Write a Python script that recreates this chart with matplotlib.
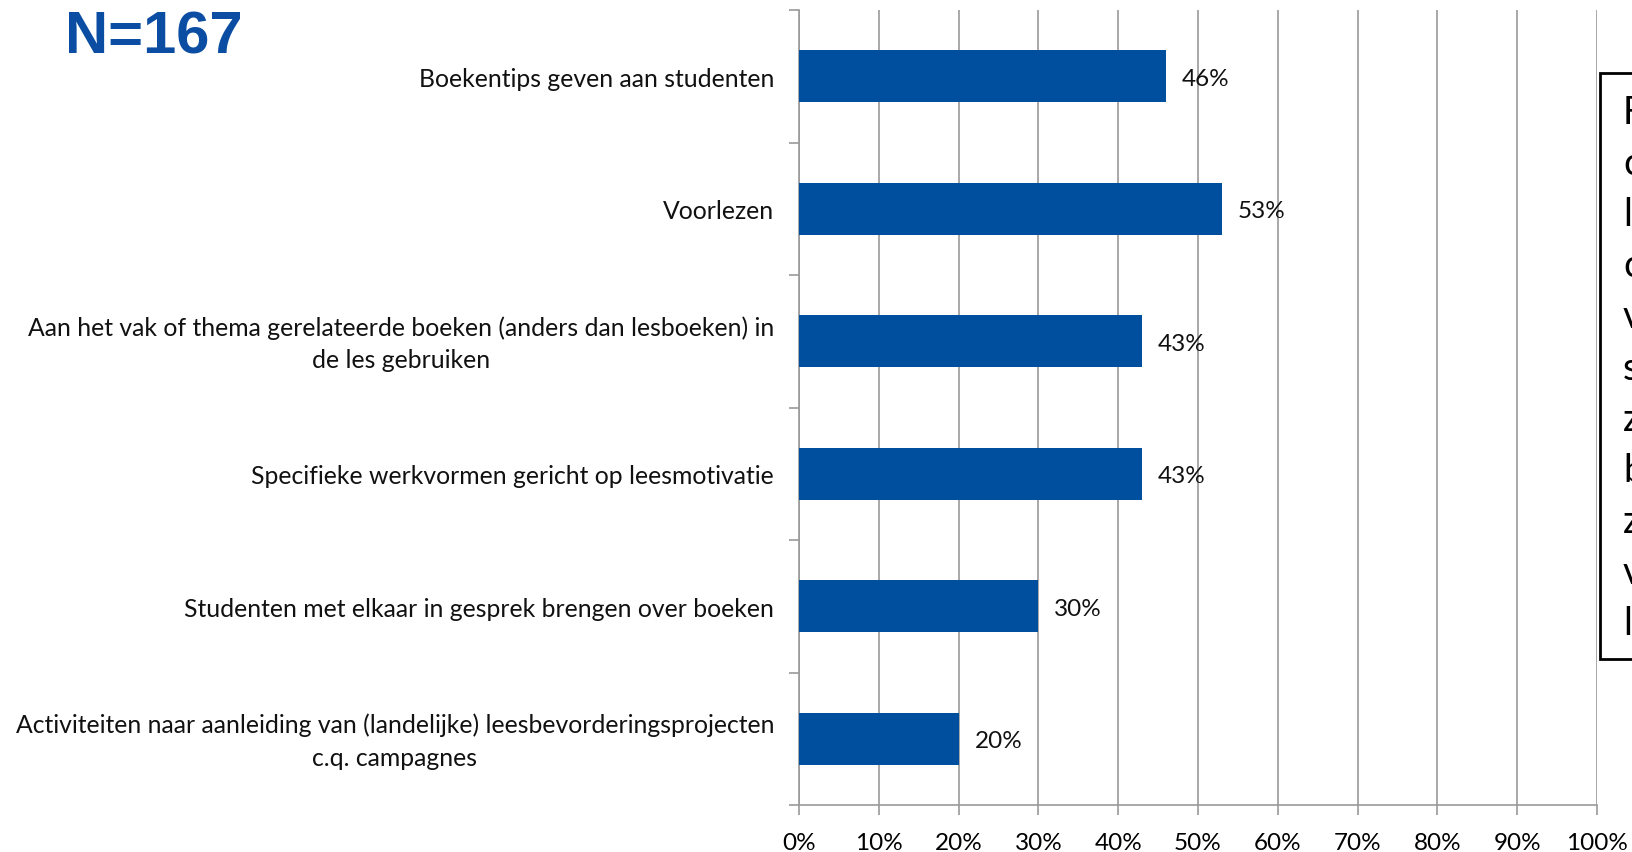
import matplotlib
matplotlib.use('agg')
import matplotlib.pyplot as plt
import numpy as np
from matplotlib.patches import Rectangle

# data
categories = [
  'Boekentips geven aan studenten',
  'Voorlezen',
  'Aan het vak of thema gerelateerde boeken (anders dan lesboeken) in\nde les gebruiken',
  'Specifieke werkvormen gericht op leesmotivatie',
  'Studenten met elkaar in gesprek brengen over boeken',
  'Activiteiten naar aanleiding van (landelijke) leesbevorderingsprojecten\nc.q. campagnes',
]
values = [46, 53, 43, 43, 30, 20]
xticks = list(range(0, 101, 10))
xtick_labels = ['%d%%' % t for t in xticks]
title_text = 'N=167'
box_letters = ['F', 'c', 'l', 'c', 'v', 's', 'z', 'b', 'z', 'v', 'l']

bar_color = '#004F9F'
grid_color = '#9A9A9A'
font = 'Lato'
W, H = 1632, 852

fig = plt.figure(figsize=(W / 100, H / 100), dpi=100)
ax = fig.add_axes([799 / W, 1 - 805 / H, (1597 - 799) / W, (805 - 10) / H])

y = np.arange(len(categories))
ax.barh(y, values, height=0.39, color=bar_color, zorder=3)
for yi, v in zip(y, values):
  ax.annotate('%d%%' % v, (v, yi), xytext=(16, -3), textcoords='offset pixels',
              va='center', ha='left', fontsize=17.5, family=font, color='#111111', zorder=4)

ax.set_xlim(0, 100)
ax.set_ylim(len(categories) - 0.5, -0.5)
ax.set_xticks(xticks)
ax.set_xticklabels(xtick_labels, family=font, fontsize=17.5)
ax.set_yticks(y)
ax.set_yticklabels([''] * len(categories))
# category labels drawn as annotations so both lines of a wrapped label stay together
for yi, cat in zip(y, categories):
  ax.annotate(cat, (0, yi), xycoords=ax.get_yaxis_transform(), xytext=(-25, -3),
              textcoords='offset pixels', ha='right', va='center', ma='center',
              linespacing=1.5, fontsize=17.8, family=font, color='#111111')
ax.set_yticks(np.arange(-0.5, len(categories)), minor=True)

ax.xaxis.grid(True, color=grid_color, linewidth=1.2, zorder=0)
ax.tick_params(axis='x', length=7, width=1.2, color=grid_color, pad=13.5)
ax.tick_params(axis='y', which='major', length=0)
ax.tick_params(axis='y', which='minor', length=7, width=1.2, color=grid_color)
for s in ['top', 'right']:
  ax.spines[s].set_visible(False)
for s in ['left', 'bottom']:
  ax.spines[s].set_color(grid_color)
  ax.spines[s].set_linewidth(1.2)

# title fragments
fig.text(65 / W, 1 - 54 / H, title_text, fontsize=43, fontweight='bold',
         family='Liberation Sans', color='#0A4DA2', ha='left', va='baseline')
fig.text(659 / W, 1 + 13 / H, 'g', fontsize=43, fontweight='bold',
         family='Liberation Sans', color='#0A4DA2', ha='left', va='baseline')

# cut-off text box on the right
fig.patches.append(Rectangle((1600 / W, 1 - 659 / H), 60 / W, (659 - 73) / H,
                             transform=fig.transFigure, facecolor='white',
                             edgecolor='black', linewidth=2, zorder=5))
for i, ch in enumerate(box_letters):
  fig.text(1623 / W, 1 - (113 + 51.1 * i) / H, ch, fontsize=27, family=font,
           color='black', ha='left', va='center', zorder=6)

plt.savefig('out.png', dpi=100)
